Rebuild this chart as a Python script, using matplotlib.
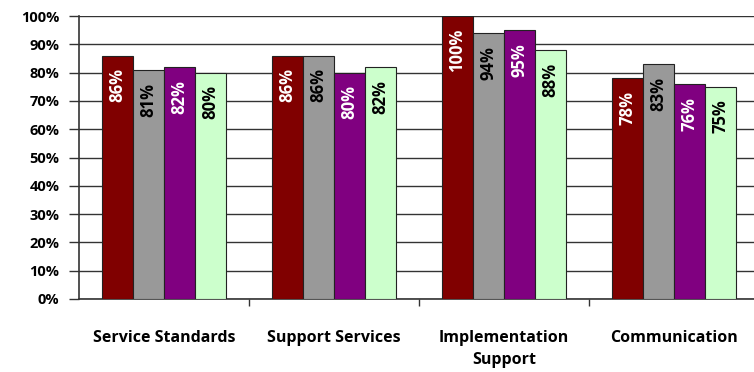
import numpy as np
import matplotlib.pyplot as plt

categories = ['Service Standards', 'Support Services', 'Implementation\nSupport', 'Communication']
series_a = [86, 86, 100, 78]
series_b = [81, 86, 94, 83]
series_c = [82, 80, 95, 76]
series_d = [80, 82, 88, 75]

colors = ['#800000', '#999999', '#800080', '#CCFFCC']
text_colors = ['white', 'black', 'white', 'black']

plt.rcParams['font.family'] = ['Open Sans', 'DejaVu Sans']

fig = plt.figure(figsize=(7.54, 3.72), dpi=100)
ax = fig.add_axes([79 / 754, 1 - 299 / 372, 1 - 79 / 754, (299 - 16) / 372])

x = np.arange(len(categories))
w = 0.183
for i, vals in enumerate([series_a, series_b, series_c, series_d]):
    pos = x + (i - 1.5) * w
    ax.bar(pos, vals, w, color=colors[i], edgecolor='#222222', linewidth=0.8, zorder=3)
    for p, v in zip(pos, vals):
        ax.text(p, v - 4.5, f'{v}%', rotation=90, ha='center', va='top',
                color=text_colors[i], fontsize=12, fontweight='bold', zorder=4)

ax.set_ylim(0, 100)
ax.set_xlim(-0.5, 3.47)
ax.set_yticks(np.arange(0, 101, 10))
ax.set_yticklabels([f'{t}%' for t in range(0, 101, 10)], fontsize=10.5, fontweight='bold')
ax.yaxis.grid(True, color='#333333', linewidth=1.0, zorder=0)
ax.tick_params(axis='y', length=7, width=1, color='#333333', pad=7)

ax.set_xticks(x)
ax.set_xticklabels(categories, fontsize=11.5, fontweight='bold', linespacing=1.55)
ax.tick_params(axis='x', length=0, pad=22)
ax.set_xticks(x[:-1] + 0.5, minor=True)
ax.tick_params(axis='x', which='minor', length=5, width=1, color='#333333')

for s in ['top', 'right']:
    ax.spines[s].set_visible(False)
ax.spines['left'].set_color('#333333')
ax.spines['bottom'].set_color('#333333')
ax.spines['left'].set_linewidth(1.2)
ax.spines['bottom'].set_linewidth(1.2)

fig.savefig('out.png', dpi=100)
